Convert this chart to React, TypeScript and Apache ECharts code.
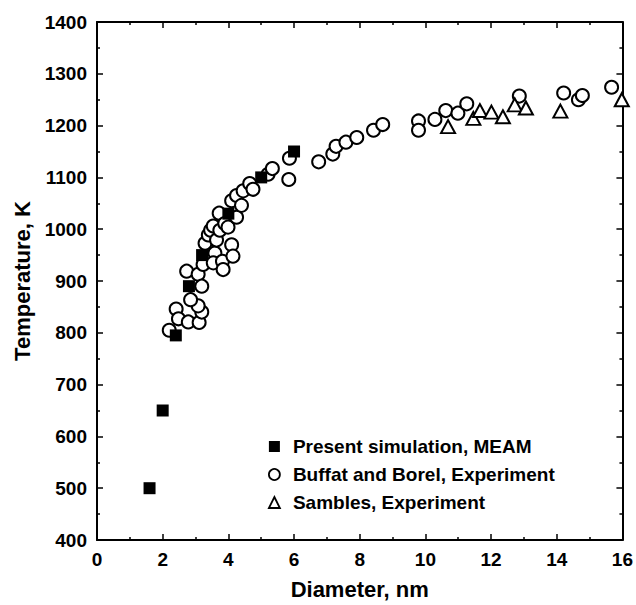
import React, { useEffect, useRef } from "react";
import * as echarts from "echarts";

const simulation: [number, number][] = [
  [1.6, 500], [2.0, 650], [2.4, 795], [2.8, 890], [3.2, 950],
  [4.0, 1030], [5.0, 1100], [6.0, 1150],
];

const buffat: [number, number][] = [
  [2.2, 805], [2.41, 846], [2.48, 827], [2.78, 821], [3.11, 820], [3.19, 840],
  [3.08, 852], [2.85, 864], [2.73, 919], [3.08, 913], [3.19, 890], [3.23, 932],
  [3.29, 973], [3.59, 954], [3.54, 935], [3.82, 938], [3.84, 922], [4.1, 970],
  [4.14, 948], [3.39, 989], [3.46, 998], [3.54, 1006], [3.64, 979], [3.74, 998],
  [3.72, 1031], [3.89, 1011], [3.99, 1004], [4.25, 1023], [4.1, 1055], [4.25, 1065],
  [4.4, 1046], [4.45, 1074], [4.65, 1088], [4.75, 1077], [5.21, 1106], [5.34, 1117],
  [5.86, 1137], [5.84, 1096], [6.75, 1130], [7.18, 1145], [7.28, 1160], [7.58, 1168],
  [7.91, 1177], [8.42, 1191], [8.7, 1202], [9.79, 1209], [9.79, 1191], [10.29, 1212],
  [10.62, 1229], [10.99, 1224], [11.26, 1242], [12.86, 1257], [14.21, 1263],
  [14.66, 1250], [14.78, 1258], [15.67, 1274],
];

const sambles: [number, number][] = [
  [10.69, 1198], [11.46, 1214], [11.66, 1229], [12.01, 1226], [12.36, 1217],
  [12.72, 1240], [13.06, 1234], [14.11, 1228], [15.98, 1250],
];

const seriesNames = [
  "Present simulation, MEAM",
  "Buffat and Borel, Experiment",
  "Sambles, Experiment",
];

const FONT = "'Liberation Sans', Arial, sans-serif";

export default function App() {
  const ref = useRef<HTMLDivElement>(null);
  useEffect(() => {
    if (!ref.current) return;
    const chart = echarts.init(ref.current, undefined, { renderer: "svg" });
    const axisCommon = {
      axisLine: { show: true, onZero: false, lineStyle: { color: "#000", width: 2 } },
      axisTick: { show: true, inside: true, length: 6, lineStyle: { color: "#000", width: 1.5 } },
      minorTick: { show: true, splitNumber: 2, length: 3, lineStyle: { color: "#000", width: 1.5 } },
      splitLine: { show: false },
    };
    chart.setOption({
      animation: false,
      backgroundColor: "#fff",
      textStyle: { fontFamily: FONT },
      grid: { left: 97, right: 12, top: 22, bottom: 57, containLabel: false },
      xAxis: [
        {
          type: "value", min: 0, max: 16, interval: 2,
          ...axisCommon,
          axisLabel: { color: "#000", fontSize: 19, fontWeight: "bold", fontFamily: FONT, margin: 10, formatter: (v: number) => String(v) },
          name: "Diameter, nm", nameLocation: "middle", nameGap: 38,
          nameTextStyle: { color: "#000", fontSize: 22, fontWeight: "bold", fontFamily: FONT },
        },
        {
          type: "value", min: 0, max: 16, interval: 2, position: "top",
          ...axisCommon,
          axisLabel: { show: false },
        },
      ],
      yAxis: [
        {
          type: "value", min: 400, max: 1400, interval: 100,
          ...axisCommon,
          axisLabel: { color: "#000", fontSize: 19, fontWeight: "bold", fontFamily: FONT, margin: 10, formatter: (v: number) => String(v) },
          name: "Temperature, K", nameLocation: "middle", nameGap: 63,
          nameTextStyle: { color: "#000", fontSize: 22, fontWeight: "bold", fontFamily: FONT },
        },
        {
          type: "value", min: 400, max: 1400, interval: 100, position: "right",
          ...axisCommon,
          axisLabel: { show: false },
        },
      ],
      legend: {
        orient: "vertical",
        left: 263,
        top: 432,
        itemWidth: 11,
        itemHeight: 11,
        itemGap: 9,
        textStyle: { color: "#000", fontSize: 19, fontWeight: "bold", fontFamily: FONT, padding: [0, 0, 0, 8] },
        data: [
          { name: seriesNames[0], icon: "rect", itemStyle: { color: "#000", borderWidth: 0 } },
          { name: seriesNames[1], icon: "circle", itemStyle: { color: "#fff", borderColor: "#000", borderWidth: 1.8 } },
          { name: seriesNames[2], icon: "triangle", itemStyle: { color: "#fff", borderColor: "#000", borderWidth: 1.8 } },
        ],
      },
      series: [
        {
          name: seriesNames[1], type: "scatter", data: buffat, symbol: "circle", symbolSize: 13,
          itemStyle: { color: "#fff", borderColor: "#000", borderWidth: 2, opacity: 1 },
          z: 2,
        },
        {
          name: seriesNames[2], type: "scatter", data: sambles, symbol: "triangle", symbolSize: [14, 13],
          itemStyle: { color: "#fff", borderColor: "#000", borderWidth: 2, opacity: 1 },
          z: 3,
        },
        {
          name: seriesNames[0], type: "scatter", data: simulation, symbol: "rect", symbolSize: 12,
          itemStyle: { color: "#000", opacity: 1 },
          z: 4,
        },
      ],
    });
    return () => chart.dispose();
  }, []);
  return <div ref={ref} style={{ width: 636, height: 605, position: "absolute", left: 0, top: 0 }} />;
}
